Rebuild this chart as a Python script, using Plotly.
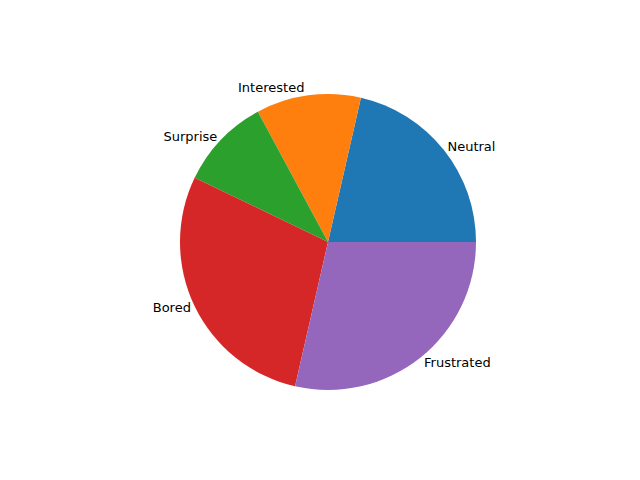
import plotly.graph_objects as go

labels = ["Neutral", "Interested", "Surprise", "Bored", "Frustrated"]
values = [15, 8, 7, 20, 20]
colors = ["#1f77b4", "#ff7f0e", "#2ca02c", "#d62728", "#9467bd"]

first_share = values[0] / sum(values)

fig = go.Figure(go.Pie(
    labels=labels,
    values=values,
    marker=dict(colors=colors, line=dict(width=0)),
    sort=False,
    direction="counterclockwise",
    rotation=90 - 360 * first_share,
    textinfo="label",
    textposition="outside",
    textfont=dict(family="DejaVu Sans", size=13, color="black"),
    showlegend=False,
    hoverinfo="label+percent",
    domain=dict(x=[172/640, 468/640], y=[98/480, 394/480]),
    automargin=False,
))
fig.update_layout(
    width=640, height=480,
    margin=dict(l=0, r=0, t=0, b=0),
    paper_bgcolor="white",
    plot_bgcolor="white",
)
fig.write_html("out.html")
